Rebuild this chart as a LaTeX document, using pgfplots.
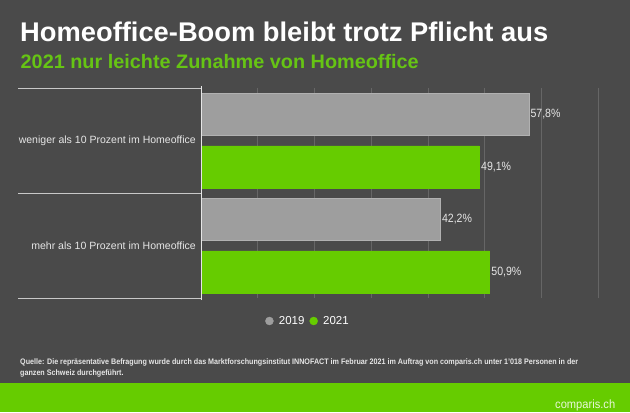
\documentclass[border=0pt]{standalone}
\usepackage{pgfplots}
\pgfplotsset{compat=1.18}
\usepackage{graphicx}
\usepackage{fontspec}
\setmainfont{Liberation Sans}
\definecolor{bgc}{HTML}{4A4A4A}
\definecolor{grayc}{HTML}{9E9E9E}
\definecolor{greenc}{HTML}{66CC00}
\definecolor{subc}{HTML}{66C414}
\definecolor{gridc}{HTML}{666666}
\definecolor{sepc}{HTML}{C8C8C8}
\definecolor{labc}{HTML}{E6E6E6}
\begin{document}
\begin{tikzpicture}[x=1bp,y=1bp]
\fill[bgc] (0,0) rectangle (630,412);
\fill[greenc] (0,0) rectangle (630,29.5);
\node[anchor=base west, inner sep=0, text=white] at (20,371)
  {\resizebox{528bp}{\height}{\fontsize{27bp}{27bp}\selectfont\bfseries Homeoffice-Boom bleibt trotz Pflicht aus}};
\node[anchor=base west, inner sep=0, text=subc] at (20.5,343.7)
  {\resizebox{398bp}{\height}{\fontsize{19.5bp}{19.5bp}\selectfont\bfseries 2021 nur leichte Zunahme von Homeoffice}};
\begin{axis}[
  at={(201bp,114bp)}, anchor=south west,
  scale only axis, width=397bp, height=210bp,
  xbar, bar width=0.4,
  xmin=0, xmax=70, ymin=-0.5, ymax=1.5,
  xtick={0,10,...,70}, xticklabels={},
  xmajorgrids, grid style={gridc, line width=0.6bp},
  ytick={0,1},
  yticklabels={{\resizebox{164.5bp}{\height}{mehr als 10 Prozent im Homeoffice}},
               {\resizebox{177bp}{\height}{weniger als 10 Prozent im Homeoffice}}},
  yticklabel style={font=\fontsize{10.5bp}{12bp}\selectfont, text=labc, inner sep=0pt, xshift=-5bp},
  major tick length=0pt,
  axis line style={draw=none},
  /pgf/number format/assume math mode=true,
  nodes near coords={\scalebox{0.88}[1]{\pgfmathprintnumber[fixed,precision=1,fixed zerofill,use comma]{\pgfplotspointmeta}\%}},
  nodes near coords style={font=\fontsize{12bp}{13bp}\selectfont, text=labc, anchor=west, inner sep=1.5bp},
  legend columns=2,
  legend style={at={(0.2695,-0.1095)}, anchor=center, draw=none, fill=none,
    text=white, font=\fontsize{11.5bp}{12bp}\selectfont,
    /tikz/every even column/.append style={column sep=3bp}},
  clip=false,
]
\addplot[fill=grayc, draw=grayc!80!white, bar shift=0.25,
  legend image code/.code={\fill[grayc] (0bp,0bp) circle (4bp); \path[draw=none,fill=none] (4bp,0bp) -- (7.5bp,0bp);}]
  coordinates {(42.2,0) (57.8,1)};
\addlegendentry{2019}
\addplot[fill=greenc, draw=greenc, bar shift=-0.25,
  legend image code/.code={\fill[greenc] (0bp,0bp) circle (4bp); \path[draw=none,fill=none] (4bp,0bp) -- (7.5bp,0bp);}]
  coordinates {(50.9,0) (49.1,1)};
\addlegendentry{2021}
\end{axis}
\draw[sepc, line width=0.8bp] (18,324) -- (201,324);
\draw[sepc, line width=0.8bp] (18,219) -- (201,219);
\draw[sepc, line width=0.8bp] (18,114) -- (201,114);
\draw[labc, line width=0.9bp] (201,112) -- (201,326);
\node[anchor=base west, inner sep=0, text=labc] at (20,47.5)
  {\resizebox{558bp}{\height}{\fontsize{8bp}{11.3bp}\selectfont\bfseries\begin{tabular}[t]{@{}l@{}}Quelle: Die repräsentative Befragung wurde durch das Marktforschungsinstitut INNOFACT im Februar 2021 im Auftrag von comparis.ch unter 1'018 Personen in der\\ganzen Schweiz durchgeführt.\end{tabular}}};
\node[anchor=base west, inner sep=0, text=white!85!greenc] at (555,4)
  {\resizebox{60bp}{\height}{\fontsize{12bp}{12bp}\selectfont comparis.ch}};
\end{tikzpicture}
\end{document}
